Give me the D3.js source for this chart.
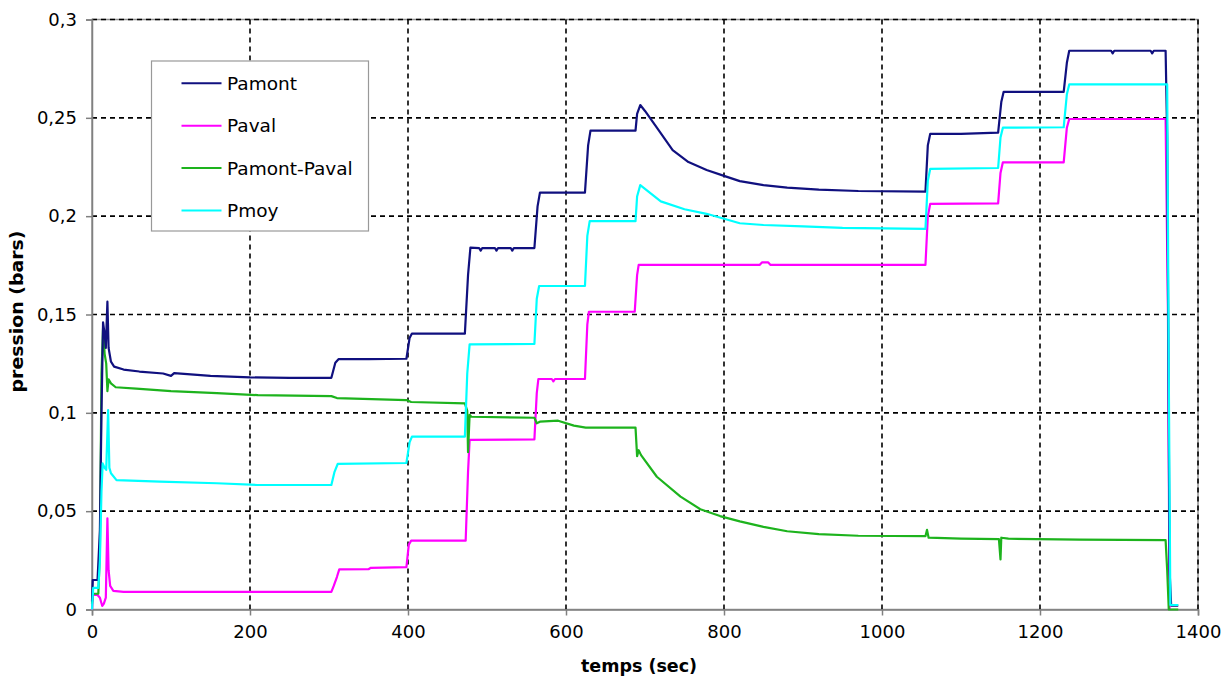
<!DOCTYPE html>
<html>
<head>
<meta charset="utf-8">
<script src="https://cdn.jsdelivr.net/npm/d3@7"></script>
<style>
  body { margin: 0; background: #fff; }
  text { font-family: "DejaVu Sans", Verdana, sans-serif; fill: #000; }
  .grid line { stroke: #000; stroke-width: 1.6; stroke-dasharray: 5,4; }
  .axis path, .axis line { stroke: #808080; stroke-width: 1.5; }
</style>
</head>
<body>
<script>
//pressure curves: [time (s), pressure (bars)]
var pamont = [[0,0.004],[1,0.015],[7,0.015],[10,0.04],[12,0.10],[14,0.146],[16,0.14],[17.5,0.133],[19.5,0.1565],[21,0.133],[24,0.126],[28,0.1235],[40,0.122],[60,0.121],[90,0.120],[100,0.1188],[104,0.1202],[150,0.1188],[200,0.118],[250,0.1178],[303,0.1178],[308,0.1255],[312,0.1273],[350,0.1273],[398,0.1275],[402,0.138],[405,0.1403],[472,0.1403],[476,0.17],[479,0.184],[490,0.1838],[492,0.1825],[494,0.1838],[510,0.1838],[512,0.1825],[514,0.1838],[530,0.1838],[532,0.1825],[534,0.1838],[560,0.1838],[564,0.205],[567,0.212],[624,0.212],[628,0.236],[631,0.2435],[688,0.2435],[690,0.252],[694,0.2565],[700,0.2535],[715,0.245],[735,0.2336],[755,0.2275],[778,0.2235],[800,0.2205],[820,0.2178],[850,0.2158],[880,0.2145],[920,0.2135],[970,0.2128],[1055,0.2125],[1058,0.236],[1061,0.2418],[1100,0.2418],[1147,0.2425],[1151,0.258],[1154,0.2632],[1230,0.2632],[1234,0.278],[1237,0.2841],[1290,0.2841],[1292,0.2828],[1294,0.2841],[1340,0.2841],[1342,0.2828],[1344,0.2841],[1359,0.2841],[1361,0.24],[1364,0.02],[1366,0.002],[1375,0.002]];

var paval = [[0,0.0],[1,0.0074],[7,0.0074],[10,0.006],[13,0.0018],[15,0.003],[17.5,0.006],[19.5,0.0464],[21,0.02],[23,0.012],[27,0.0095],[40,0.009],[303,0.009],[306,0.012],[310,0.0165],[313,0.0204],[350,0.0205],[353,0.0212],[398,0.0215],[401,0.033],[404,0.035],[473,0.035],[476,0.07],[478,0.0862],[560,0.0865],[563,0.11],[565,0.1172],[582,0.1172],[584,0.116],[586,0.1172],[624,0.1172],[627,0.145],[629,0.1514],[687,0.1514],[690,0.17],[692,0.1752],[845,0.1752],[848,0.1765],[856,0.1765],[859,0.1752],[1055,0.1752],[1058,0.2],[1061,0.2062],[1147,0.2065],[1150,0.222],[1153,0.2274],[1230,0.2274],[1234,0.245],[1237,0.2494],[1359,0.2494],[1362,0.15],[1364,0.0]];

var pdiff = [[0,0.003],[1,0.008],[8,0.008],[10,0.03],[12,0.12],[14,0.143],[16,0.13],[18,0.125],[19.5,0.111],[21,0.117],[24,0.115],[30,0.113],[56,0.1123],[100,0.111],[158,0.110],[210,0.109],[303,0.1085],[310,0.1075],[398,0.1065],[404,0.1055],[472,0.1048],[475,0.101],[476,0.08],[478,0.099],[480,0.098],[560,0.0975],[563,0.0947],[567,0.0955],[590,0.096],[610,0.0935],[625,0.0925],[688,0.0925],[690,0.078],[692,0.081],[695,0.0785],[715,0.0675],[745,0.0574],[770,0.051],[795,0.0475],[820,0.0448],[850,0.042],[880,0.0398],[920,0.0383],[970,0.0375],[1055,0.0373],[1057,0.0405],[1059,0.0365],[1100,0.036],[1148,0.0358],[1150,0.0255],[1151,0.0365],[1160,0.036],[1250,0.0355],[1359,0.0353],[1361,0.02],[1363,0.0],[1375,0.0]];

var pmoy = [[0,0.0],[1.5,0.011],[8,0.011],[10,0.025],[12,0.06],[13.5,0.0743],[16,0.072],[18,0.071],[20.4,0.1014],[22,0.072],[24,0.0693],[31,0.0658],[86,0.065],[158,0.0642],[209,0.0633],[303,0.0633],[307,0.07],[311,0.074],[398,0.0745],[402,0.085],[405,0.0879],[472,0.0879],[475,0.12],[478,0.1348],[560,0.135],[563,0.158],[566,0.1645],[624,0.1645],[627,0.19],[630,0.1975],[688,0.1975],[690,0.21],[694,0.2158],[720,0.2075],[750,0.2035],[778,0.2012],[820,0.1964],[850,0.1955],[900,0.1948],[950,0.194],[1055,0.1935],[1058,0.218],[1061,0.224],[1147,0.2245],[1150,0.24],[1153,0.245],[1230,0.2452],[1234,0.262],[1237,0.267],[1361,0.267],[1363,0.12],[1365,0.0023],[1375,0.0023]];

var seriesNames = ["Pamont", "Paval", "Pamont-Paval", "Pmoy"];
var seriesColors = ["#10107f", "#ff00ff", "#1db31d", "#00ffff"];
var xTicks = [0, 200, 400, 600, 800, 1000, 1200, 1400];
var yTicks = [0, 0.05, 0.1, 0.15, 0.2, 0.25, 0.3];

var width = 1229, height = 679;
var margin = {left: 92, top: 19.5, right: 31, bottom: 69.5};
var innerW = width - margin.left - margin.right,
    innerH = height - margin.top - margin.bottom;

var svg = d3.select("body").append("svg")
    .attr("width", width)
    .attr("height", height);

var g = svg.append("g")
    .attr("transform", "translate(" + margin.left + "," + margin.top + ")");

var x = d3.scaleLinear().domain([0, 1400]).range([0, innerW]);
var y = d3.scaleLinear().domain([0, 0.3]).range([innerH, 0]);

//plot frame
g.append("rect")
    .attr("width", innerW)
    .attr("height", innerH)
    .attr("fill", "#fff")
    .attr("stroke", "#909090")
    .attr("stroke-width", 1.5);

//dashed grid
var grid = g.append("g").attr("class", "grid");
grid.selectAll(".hg").data(yTicks.filter(function(d){ return d > 0; }))
    .enter().append("line")
    .attr("x1", 0).attr("x2", innerW)
    .attr("y1", function(d){ return y(d); })
    .attr("y2", function(d){ return y(d); });
grid.selectAll(".vg").data(xTicks.filter(function(d){ return d > 0; }))
    .enter().append("line")
    .attr("y1", 0).attr("y2", innerH)
    .attr("x1", function(d){ return x(d); })
    .attr("x2", function(d){ return x(d); });

//axes
var fmt = function(d){ return String(d).replace(".", ","); };
g.append("g").attr("class", "axis")
    .call(d3.axisLeft(y).tickValues(yTicks).tickFormat(fmt).tickSize(6).tickPadding(9));
g.append("g").attr("class", "axis")
    .attr("transform", "translate(0," + innerH + ")")
    .call(d3.axisBottom(x).tickValues(xTicks).tickFormat(d3.format("d")).tickSize(6).tickPadding(10));
g.selectAll(".axis text").style("font-size", "18px").style("font-family", "DejaVu Sans, sans-serif");

//curves
var line = d3.line()
    .x(function(d){ return x(d[0]); })
    .y(function(d){ return y(d[1]); });

var allSeries = [pamont, paval, pdiff, pmoy];
var drawOrder = [1, 2, 0, 3];
drawOrder.forEach(function(i){
    g.append("path")
        .datum(allSeries[i])
        .attr("fill", "none")
        .attr("stroke", seriesColors[i])
        .attr("stroke-width", 2.2)
        .attr("stroke-linejoin", "round")
        .attr("d", line);
});

//axis titles
svg.append("text")
    .attr("x", 639)
    .attr("y", 672)
    .attr("text-anchor", "middle")
    .style("font-size", "17.5px")
    .style("font-weight", "bold")
    .text("temps (sec)");

svg.append("text")
    .attr("transform", "translate(23,311.5) rotate(-90)")
    .attr("text-anchor", "middle")
    .attr("textLength", 162)
    .attr("lengthAdjust", "spacingAndGlyphs")
    .style("font-size", "17.5px")
    .style("font-weight", "bold")
    .text("pression (bars)");

//legend
var legend = svg.append("g").attr("transform", "translate(151.5,61)");
legend.append("rect")
    .attr("width", 217)
    .attr("height", 170)
    .attr("fill", "#fff")
    .attr("stroke", "#999")
    .attr("stroke-width", 1.2);

var items = legend.selectAll(".item")
    .data(seriesNames)
    .enter().append("g")
    .attr("transform", function(d, i){ return "translate(0," + (22.3 + i * 42.4) + ")"; });
items.append("line")
    .attr("x1", 30).attr("x2", 70)
    .attr("stroke", function(d, i){ return seriesColors[i]; })
    .attr("stroke-width", 2);
items.append("text")
    .attr("x", 75.5)
    .attr("dy", "0.35em")
    .style("font-size", "18.5px")
    .text(function(d){ return d; });
</script>
</body>
</html>
